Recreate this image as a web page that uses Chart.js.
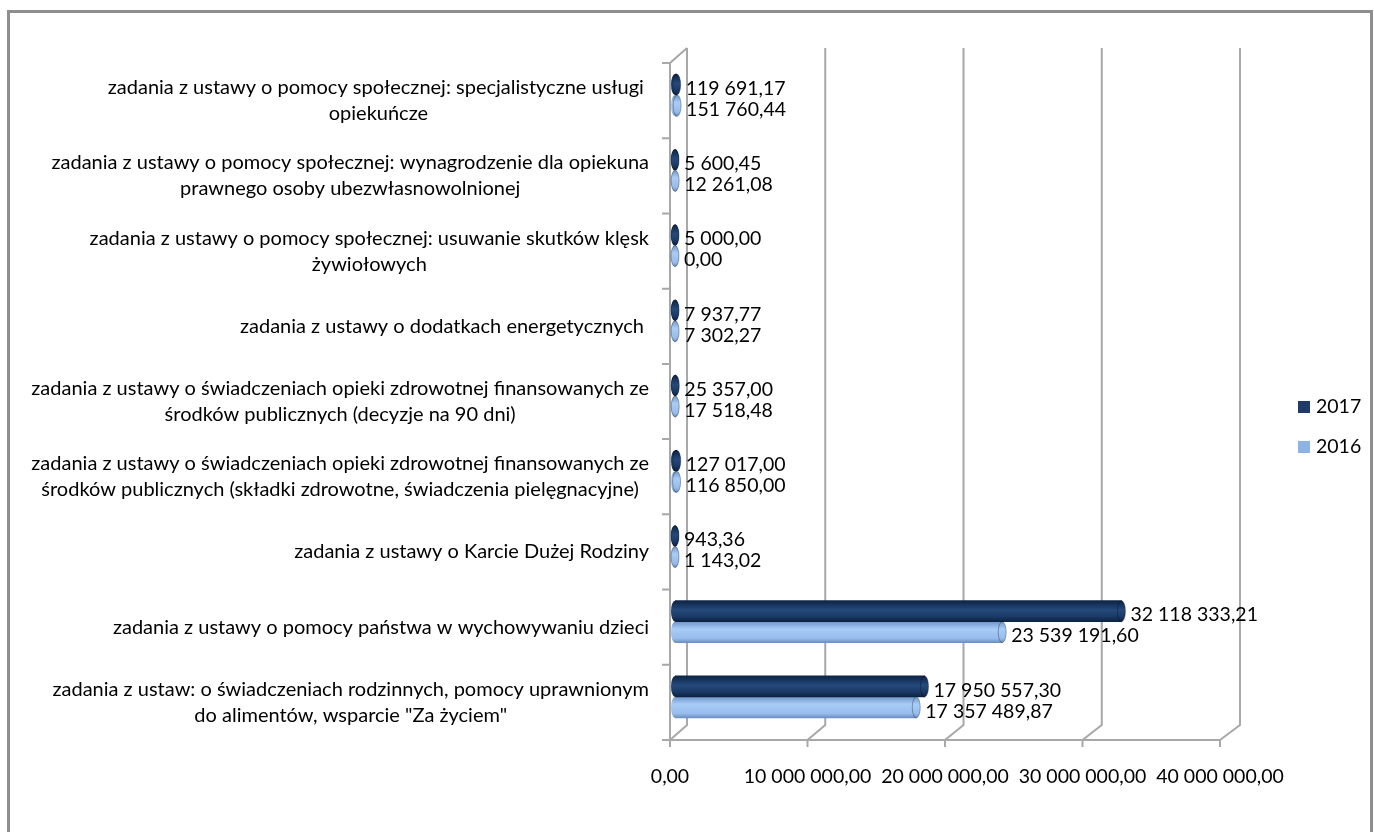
<!DOCTYPE html>
<html lang="pl">
<head>
<meta charset="utf-8">
<title>Zadania zlecone 2016 - 2017</title>
<script src="https://cdn.jsdelivr.net/npm/chart.js@4.4.1/dist/chart.umd.min.js"></script>
<style>
  html, body { margin: 0; padding: 0; background: #fff; }
  #wrap { position: relative; width: 1374px; height: 832px; overflow: hidden; }
  #ramka { position: absolute; left: 7px; top: 10px; width: 1366px; height: 840px;
           border: 3px solid #8e8e8e; box-sizing: border-box; pointer-events: none; }
</style>
</head>
<body>
<div id="wrap">
  <canvas id="wykres"></canvas>
  <div id="ramka"></div>
</div>
<script>
// Kategorie, od góry do dołu tak jak na wykresie
const kategorie = [
    ['zadania z ustawy o pomocy społecznej: specjalistyczne usługi ', 'opiekuńcze'],
    ['zadania z ustawy o pomocy społecznej: wynagrodzenie dla opiekuna', 'prawnego osoby ubezwłasnowolnionej'],
    ['zadania z ustawy o pomocy społecznej: usuwanie skutków klęsk', 'żywiołowych'],
    ['zadania z ustawy o dodatkach energetycznych '],
    ['zadania z ustawy o świadczeniach opieki zdrowotnej finansowanych ze', 'środków publicznych (decyzje na 90 dni)'],
    ['zadania z ustawy o świadczeniach opieki zdrowotnej finansowanych ze', 'środków publicznych (składki zdrowotne, świadczenia pielęgnacyjne)'],
    ['zadania z ustawy o Karcie Dużej Rodziny'],
    ['zadania z ustawy o pomocy państwa w wychowywaniu dzieci'],
    ['zadania z ustaw: o świadczeniach rodzinnych, pomocy uprawnionym', 'do alimentów, wsparcie "Za życiem"']
];

const wartosci2017 = [119691.17, 5600.45, 5000.00, 7937.77, 25357.00, 127017.00, 943.36, 32118333.21, 17950557.30];
const wartosci2016 = [151760.44, 12261.08, 0.00, 7302.27, 17518.48, 116850.00, 1143.02, 23539191.60, 17357489.87];

const osXmin = 0;
const osXmax = 40000000;
const osXkrok = 10000000;

const CZCIONKA_KAT = '20px Lato, "Open Sans", sans-serif';
const CZCIONKA = '19.5px Lato, "Open Sans", sans-serif';
const GRUBOSC = 21;          // grubość słupka
const LINIA = '#a8a8a8';     // kolor ścian / siatki

// Kolory słupków (gradient pionowy imitujący walec)
const gradient2017 = [[0, '#0d2444'], [0.45, '#24497b'], [0.75, '#1b3a66'], [1, '#0c2242']];
const gradient2016 = [[0, '#7097c9'], [0.35, '#a9ccf7'], [0.8, '#97bcec'], [1, '#6a8fc0']];
const legenda2017 = '#1f3b66';
const legenda2016 = '#8db3e2';

// Format liczby po polsku: 32 118 333,21
function formatPL(v) {
    const czesci = v.toFixed(2).split('.');
    return czesci[0].replace(/\B(?=(\d{3})+(?!\d))/g, ' ') + ',' + czesci[1];
}

// Gradient dla słupka danej serii
function gradientSlupka(stops, nrSerii) {
    return function(c) {
        const chart = c.chart;
        if (c.type !== 'data' || !chart.chartArea) return stops[1][1];
        const yc = chart.scales.y.getPixelForValue(c.dataIndex);
        const gora = yc - GRUBOSC + nrSerii * GRUBOSC;
        const g = chart.ctx.createLinearGradient(0, gora, 0, gora + GRUBOSC);
        stops.forEach(s => g.addColorStop(s[0], s[1]));
        return g;
    };
}

// Rama "3D": ściana tylna, podłoga, oś kategorii
const rama3d = {
    id: 'rama3d',
    geometria(chart) {
        const a = chart.chartArea;
        const xs = chart.scales.x;
        const frac = v => (v - xs.min) / (xs.max - xs.min);
        return {
            a: a,
            frontX: v => a.left - 5 + frac(v) * (a.width - 6),
            tylX: v => a.left + 12 + frac(v) * (a.width - 3),
            frontGora: a.top + 5.5,
            frontDol: a.bottom + 5.5,
            tylGora: a.top - 9.5,
            tylDol: a.bottom - 9.5
        };
    },
    beforeDatasetsDraw(chart) {
        const ctx = chart.ctx;
        const g = this.geometria(chart);
        const ticks = chart.scales.x.ticks;
        ctx.save();
        ctx.strokeStyle = LINIA;
        ctx.lineWidth = 2;
        ctx.beginPath();
        ticks.forEach(t => {
            const xb = g.tylX(t.value);
            const xf = g.frontX(t.value);
            ctx.moveTo(xb, g.tylGora);
            ctx.lineTo(xb, g.tylDol);
            ctx.lineTo(xf, g.frontDol);
        });
        // lewa ściana
        const x0 = g.frontX(osXmin);
        ctx.moveTo(g.tylX(osXmin), g.tylGora);
        ctx.lineTo(x0, g.frontGora);
        ctx.lineTo(x0, g.frontDol);
        // przednia krawędź podłogi
        ctx.moveTo(x0 - 8, g.frontDol);
        ctx.lineTo(g.frontX(osXmax), g.frontDol);
        // znaczniki osi X
        ticks.forEach(t => {
            ctx.moveTo(g.frontX(t.value), g.frontDol);
            ctx.lineTo(g.frontX(t.value), g.frontDol + 7);
        });
        // znaczniki osi kategorii
        const n = kategorie.length;
        for (let i = 0; i <= n; i++) {
            const y = g.frontGora + i * (g.frontDol - g.frontGora) / n;
            ctx.moveTo(x0 - 8, y);
            ctx.lineTo(x0, y);
        }
        ctx.stroke();
        ctx.restore();
    },
    afterDatasetsDraw(chart) {
        const ctx = chart.ctx;
        ctx.save();
        ctx.font = CZCIONKA;
        ctx.textBaseline = 'middle';
        ctx.textAlign = 'left';
        chart.data.datasets.forEach((ds, di) => {
            const meta = chart.getDatasetMeta(di);
            meta.data.forEach((bar, i) => {
                const p = bar.getProps(['x', 'y', 'base', 'height'], true);
                const ry = p.height / 2;
                ctx.fillStyle = bar.options.backgroundColor;
                // początek walca
                ctx.beginPath();
                ctx.ellipse(p.base, p.y, 4, ry, 0, 0, Math.PI * 2);
                ctx.fill();
                // koniec walca
                ctx.beginPath();
                ctx.ellipse(p.x, p.y, 4, ry, 0, 0, Math.PI * 2);
                ctx.fill();
                ctx.strokeStyle = 'rgba(0,0,0,0.3)';
                ctx.lineWidth = 1;
                ctx.stroke();
                // etykieta wartości
                ctx.fillStyle = '#000';
                ctx.fillText(formatPL(ds.data[i]), p.x + 9, p.y + 4);
            });
        });
        ctx.restore();
    },
    afterDraw(chart) {
        const ctx = chart.ctx;
        const g = this.geometria(chart);
        const n = kategorie.length;
        ctx.save();
        ctx.font = CZCIONKA_KAT;
        ctx.fillStyle = '#000';
        ctx.textBaseline = 'middle';
        // etykiety kategorii: blok wyrównany do prawej, wiersze wyśrodkowane
        const prawa = g.frontX(osXmin) - 21;
        kategorie.forEach((wiersze, i) => {
            const yc = g.frontGora + (i + 0.5) * (g.frontDol - g.frontGora) / n;
            const szer = Math.max(...wiersze.map(w => ctx.measureText(w).width));
            ctx.textAlign = 'center';
            wiersze.forEach((w, j) => {
                ctx.fillText(w, prawa - szer / 2, yc + (j - (wiersze.length - 1) / 2) * 26);
            });
        });
        // etykiety osi X
        ctx.font = CZCIONKA;
        ctx.textAlign = 'center';
        chart.scales.x.ticks.forEach(t => {
            ctx.fillText(formatPL(t.value), g.frontX(t.value), g.frontDol + 37);
        });
        // legenda
        const legenda = [
            { tekst: chart.data.datasets[0].label, kolor: legenda2017, y: 407 },
            { tekst: chart.data.datasets[1].label, kolor: legenda2016, y: 447 }
        ];
        ctx.textAlign = 'left';
        legenda.forEach(l => {
            ctx.fillStyle = l.kolor;
            ctx.fillRect(1298, l.y - 6, 12, 12);
            ctx.fillStyle = '#000';
            ctx.fillText(l.tekst, 1316, l.y);
        });
        ctx.restore();
    }
};

function initWykres() {
    const ctx = document.getElementById('wykres');
    return new Chart(ctx, {
        type: 'bar',
        data: {
            labels: kategorie,
            datasets: [
                {
                    label: '2017',
                    data: wartosci2017,
                    backgroundColor: gradientSlupka(gradient2017, 0),
                    barThickness: GRUBOSC
                },
                {
                    label: '2016',
                    data: wartosci2016,
                    backgroundColor: gradientSlupka(gradient2016, 1),
                    barThickness: GRUBOSC
                }
            ]
        },
        options: {
            indexAxis: 'y',
            responsive: true,
            maintainAspectRatio: false,
            animation: false,
            layout: {
                padding: { left: 675, right: 143, top: 57.5, bottom: 97.5 }
            },
            scales: {
                x: {
                    min: osXmin,
                    max: osXmax,
                    ticks: { display: false, stepSize: osXkrok },
                    grid: { display: false, drawTicks: false },
                    border: { display: false }
                },
                y: {
                    ticks: { display: false },
                    grid: { display: false, drawTicks: false },
                    border: { display: false }
                }
            },
            plugins: {
                legend: { display: false },
                tooltip: { enabled: false }
            }
        },
        plugins: [rama3d]
    });
}

document.addEventListener('DOMContentLoaded', initWykres);
</script>
</body>
</html>
